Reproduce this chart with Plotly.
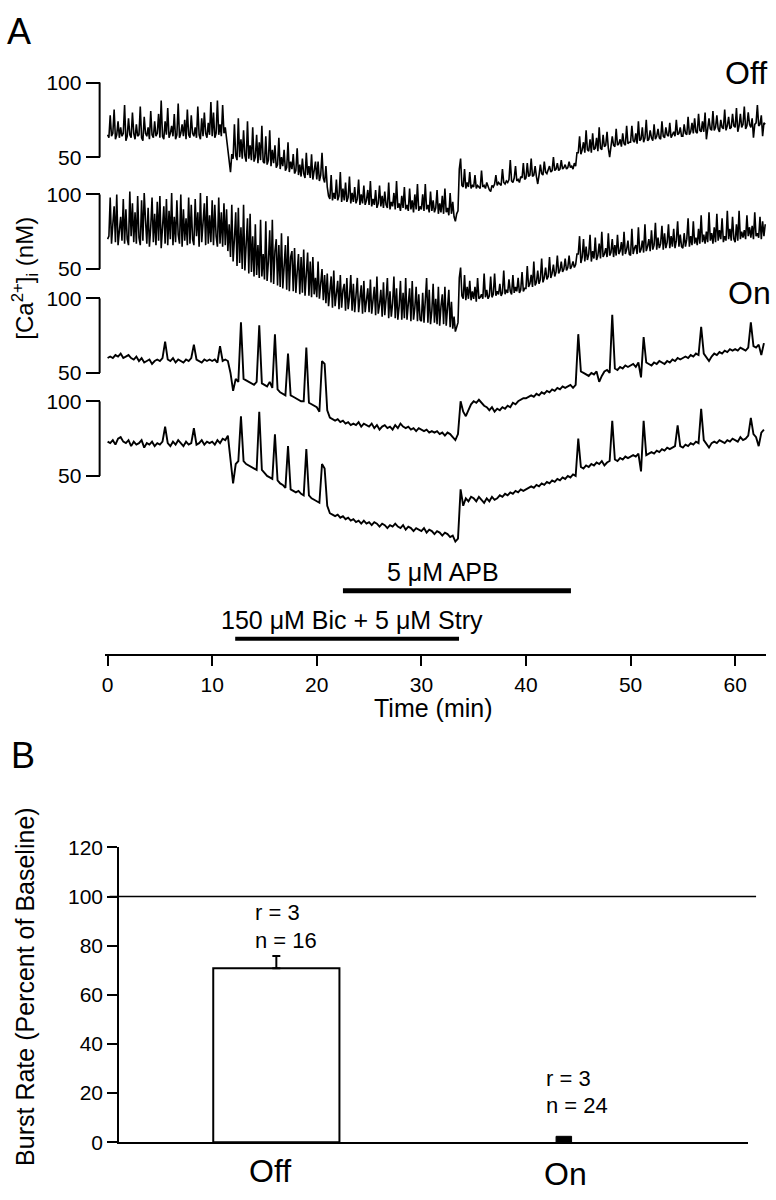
import plotly.graph_objects as go

# ---------------- DATA ----------------
OFF_STEP_MIN = 0.125  # sampling interval of the Off traces (min)
ON_STEP_MIN = 0.25    # sampling interval of the On traces (min)

# Panel A: [Ca2+]i traces (nM), starting at t = 0
off_cell_1 = [
    65, 63, 78, 64, 66, 82, 62, 65, 74, 63, 70, 64, 66, 85, 61, 64, 76, 65, 63, 80,
    66, 62, 72, 64, 65, 84, 63, 61, 77, 66, 64, 70, 62, 81, 65, 63, 74, 64, 66, 79,
    63, 88, 64, 62, 74, 65, 83, 63, 66, 71, 64, 79, 62, 65, 86, 63, 66, 72, 64, 75,
    62, 82, 65, 63, 78, 66, 64, 70, 63, 84, 65, 62, 76, 64, 80, 66, 63, 73, 65, 87,
    64, 80, 63, 66, 88, 65, 72, 64, 85, 66, 70, 62, 58, 47, 40, 52, 49, 72, 51, 48,
    76, 50, 62, 49, 68, 51, 47, 74, 49, 58, 48, 70, 47, 50, 65, 46, 60, 48, 71, 47,
    46, 64, 45, 48, 68, 44, 55, 46, 58, 43, 45, 63, 42, 50, 44, 55, 41, 43, 60, 40,
    47, 42, 52, 39, 41, 56, 38, 45, 37, 49, 39, 36, 53, 38, 44, 36, 52, 35, 40, 47,
    35, 47, 34, 38, 53, 36, 33, 44, 30, 24, 22, 38, 21, 26, 22, 35, 21, 24, 40, 20,
    29, 21, 33, 20, 23, 37, 19, 26, 20, 30, 19, 22, 35, 18, 25, 19, 31, 18, 21, 28,
    18, 34, 17, 22, 18, 28, 16, 19, 31, 17, 24, 16, 27, 18, 16, 33, 15, 20, 17, 26,
    15, 34, 16, 19, 14, 24, 16, 30, 15, 18, 14, 29, 15, 21, 13, 25, 15, 32, 14, 17,
    15, 25, 14, 32, 15, 18, 13, 27, 14, 21, 13, 16, 28, 12, 19, 13, 24, 12, 29, 13,
    16, 11, 26, 12, 20, 10, 7, 12, 14, 42, 49, 31, 30, 42, 29, 33, 30, 40, 29, 31,
    30, 38, 29, 31, 30, 29, 41, 30, 31, 29, 33, 30, 28, 27, 31, 30, 32, 38, 31, 33,
    32, 31, 42, 33, 32, 34, 33, 35, 48, 34, 33, 36, 44, 34, 35, 33, 37, 36, 46, 35,
    36, 46, 37, 38, 49, 37, 38, 44, 37, 32, 38, 45, 39, 38, 47, 40, 39, 41, 44, 40,
    41, 50, 41, 42, 46, 41, 42, 48, 42, 43, 45, 42, 43, 47, 43, 44, 42, 46, 44, 53,
    53, 64, 52, 55, 60, 53, 68, 55, 54, 62, 53, 66, 55, 56, 63, 54, 70, 56, 55, 65,
    57, 58, 67, 56, 50, 57, 64, 58, 57, 69, 58, 59, 62, 57, 66, 59, 58, 71, 59, 60,
    60, 71, 61, 60, 66, 59, 74, 61, 62, 70, 60, 63, 75, 61, 62, 68, 63, 61, 72, 62,
    64, 69, 63, 62, 74, 64, 63, 70, 65, 64, 73, 63, 65, 67, 64, 75, 65, 66, 70, 64,
    64, 72, 66, 65, 77, 65, 67, 73, 66, 76, 67, 66, 79, 68, 67, 74, 67, 80, 62, 68,
    76, 69, 68, 81, 68, 70, 78, 69, 67, 75, 70, 69, 82, 68, 71, 77, 69, 70, 79, 71,
    70, 83, 67, 71, 79, 70, 72, 84, 69, 71, 80, 72, 70, 76, 63, 72, 73, 85, 71, 72,
    78, 64, 73, 72,
]
off_cell_2 = [
    70, 72, 98, 67, 80, 92, 68, 100, 66, 75, 85, 69, 97, 67, 90, 70, 66, 102, 72, 94,
    68, 88, 67, 99, 71, 66, 96, 69, 101, 83, 67, 91, 65, 78, 98, 68, 87, 66, 95, 69,
    99, 64, 80, 92, 67, 97, 66, 89, 70, 101, 66, 85, 68, 96, 73, 67, 100, 65, 90, 69,
    84, 66, 98, 67, 93, 70, 66, 97, 72, 88, 65, 101, 68, 79, 94, 66, 99, 67, 86, 68,
    96, 66, 93, 72, 65, 98, 67, 88, 65, 94, 66, 90, 62, 80, 58, 93, 55, 70, 88, 52,
    91, 54, 78, 50, 93, 49, 68, 84, 47, 87, 48, 72, 45, 80, 46, 66, 44, 83, 45, 60,
    43, 82, 42, 55, 76, 41, 83, 40, 62, 70, 39, 66, 38, 74, 37, 50, 66, 36, 72, 35,
    58, 62, 35, 64, 34, 48, 60, 33, 58, 34, 63, 32, 45, 61, 32, 55, 31, 58, 33, 44,
    31, 55, 30, 42, 50, 29, 46, 27, 47, 25, 38, 45, 24, 49, 25, 33, 42, 23, 46, 24,
    36, 40, 22, 44, 23, 31, 46, 22, 40, 21, 35, 44, 21, 30, 39, 20, 42, 21, 28, 37,
    21, 43, 20, 29, 38, 19, 45, 20, 26, 36, 18, 41, 19, 30, 44, 17, 35, 18, 27, 45,
    17, 37, 16, 25, 42, 16, 34, 17, 44, 16, 28, 37, 15, 42, 16, 24, 38, 15, 33, 16,
    15, 34, 14, 26, 44, 14, 36, 13, 22, 40, 14, 30, 13, 38, 12, 25, 33, 13, 38, 12,
    22, 36, 11, 28, 10, 18, 8, 12, 14, 44, 51, 32, 30, 46, 29, 38, 30, 42, 29, 35,
    30, 38, 28, 44, 30, 31, 33, 30, 47, 31, 36, 30, 32, 45, 31, 33, 47, 32, 35, 33,
    40, 32, 34, 49, 33, 36, 34, 43, 35, 33, 46, 34, 38, 35, 44, 34, 36, 48, 35, 37,
    37, 52, 38, 40, 46, 38, 55, 39, 41, 49, 40, 43, 57, 41, 44, 51, 43, 45, 58, 44,
    47, 53, 45, 48, 59, 47, 49, 55, 48, 50, 57, 49, 51, 59, 50, 52, 55, 51, 53, 60,
    60, 72, 54, 58, 70, 55, 65, 56, 60, 73, 55, 62, 57, 71, 56, 59, 67, 57, 75, 58,
    60, 64, 58, 74, 59, 61, 70, 58, 66, 59, 73, 60, 62, 68, 59, 75, 60, 63, 69, 60,
    59, 77, 60, 64, 66, 60, 78, 61, 63, 69, 61, 80, 62, 65, 70, 62, 76, 63, 66, 81,
    63, 71, 64, 67, 79, 63, 74, 64, 68, 80, 64, 72, 65, 77, 64, 69, 82, 65, 73, 65,
    64, 74, 65, 70, 84, 65, 72, 66, 82, 67, 71, 66, 77, 67, 86, 68, 73, 67, 75, 68,
    88, 69, 74, 67, 78, 68, 87, 69, 76, 70, 84, 68, 72, 69, 89, 70, 77, 69, 85, 70,
    68, 80, 69, 89, 70, 75, 71, 76, 70, 86, 72, 78, 71, 79, 70, 88, 72, 74, 71, 85,
    70, 82, 72, 80,
]
on_cell_1 = [
    60, 61, 60, 62, 61, 63, 60, 61, 62, 60, 59, 61, 58, 60, 57, 58, 59, 56, 58, 59,
    58, 60, 71, 59, 58, 60, 57, 59, 58, 57, 59, 58, 60, 69, 59, 58, 57, 59, 58, 59,
    58, 59, 57, 68, 58, 59, 58, 50, 38, 46, 44, 84, 46, 45, 44, 43, 42, 44, 82, 43,
    42, 41, 44, 40, 76, 39, 37, 36, 35, 63, 35, 34, 33, 32, 31, 31, 67, 30, 29, 28,
    27, 24, 58, 56, 25, 20, 19, 18, 19, 17, 18, 16, 17, 15, 16, 15, 17, 14, 16, 15,
    14, 16, 13, 15, 12, 14, 15, 13, 14, 12, 15, 13, 16, 14, 13, 14, 12, 13, 11, 13,
    12, 11, 12, 10, 11, 10, 11, 9, 10, 8, 10, 9, 7, 5, 9, 31, 24, 21, 25, 29,
    31, 30, 32, 30, 28, 27, 25, 27, 24, 26, 25, 27, 26, 28, 27, 30, 29, 31, 32, 33,
    33, 34, 35, 34, 36, 35, 37, 36, 38, 37, 39, 38, 40, 39, 41, 40, 41, 42, 40, 42,
    76, 51, 50, 49, 48, 50, 49, 51, 44, 48, 51, 52, 50, 89, 53, 52, 54, 53, 55, 54,
    55, 56, 54, 57, 47, 74, 57, 56, 55, 57, 56, 58, 57, 56, 58, 57, 59, 58, 60, 59,
    60, 61, 60, 62, 61, 63, 62, 81, 63, 60, 58, 61, 63, 62, 64, 63, 65, 64, 66, 65,
    66, 65, 67, 66, 65, 67, 84, 68, 67, 69, 62, 70,
]
on_cell_2 = [
    73, 72, 74, 71, 75, 76, 73, 72, 74, 70, 73, 71, 72, 74, 69, 72, 71, 73, 70, 72,
    71, 73, 83, 72, 70, 73, 71, 74, 72, 70, 73, 71, 72, 82, 71, 72, 74, 71, 73, 72,
    73, 71, 74, 72, 75, 74, 77, 60, 45, 58, 60, 90, 60, 58, 57, 56, 55, 54, 93, 54,
    52, 50, 49, 48, 78, 47, 45, 44, 42, 70, 41, 40, 39, 40, 38, 37, 68, 37, 35, 34,
    33, 32, 58, 55, 30, 25, 24, 23, 24, 22, 23, 21, 22, 20, 21, 19, 20, 18, 20, 18,
    19, 17, 19, 18, 16, 18, 17, 15, 17, 16, 18, 16, 15, 17, 14, 16, 15, 13, 15, 14,
    13, 15, 12, 14, 13, 11, 13, 12, 10, 12, 11, 9, 10, 6, 8, 41, 30, 35, 33, 36,
    35, 33, 36, 34, 32, 35, 33, 36, 34, 35, 37, 36, 38, 37, 39, 38, 40, 39, 41, 40,
    41, 42, 43, 42, 44, 43, 45, 44, 46, 45, 47, 46, 48, 47, 49, 48, 50, 49, 51, 50,
    75, 56, 55, 57, 56, 58, 57, 59, 58, 60, 57, 59, 60, 87, 61, 60, 62, 61, 63, 62,
    63, 64, 63, 65, 53, 87, 64, 65, 66, 65, 67, 66, 68, 67, 69, 68, 69, 70, 84, 70,
    69, 71, 70, 72, 71, 73, 72, 95, 74, 71, 69, 72, 73, 72, 74, 73, 72, 74, 73, 75,
    74, 73, 76, 74, 75, 77, 89, 78, 76, 70, 79, 81,
]
trace_series = [off_cell_1, off_cell_2, on_cell_1, on_cell_2]
trace_steps = [OFF_STEP_MIN, OFF_STEP_MIN, ON_STEP_MIN, ON_STEP_MIN]
time_ticks = [0, 10, 20, 30, 40, 50, 60]
scale_ticks = [50, 100]

# drug applications (min)
drug_labels = ["5 \u03bcM APB", "150 \u03bcM Bic + 5 \u03bcM Stry"]
drug_start = [22.5, 12.2]
drug_end = [44.3, 33.6]

# Panel B: burst rate (% of baseline)
cell_types = ["Off", "On"]
burst_rate = [70.8, 2.4]
burst_sem = [5.0, 0.0]
n_text = [["r = 3", "n = 16"], ["r = 3", "n = 24"]]
burst_ticks = [0, 20, 40, 60, 80, 100, 120]
baseline_pct = 100

# ---------------- LAYOUT HELPERS ----------------
W, H = 776, 1200
FONT = "Liberation Sans, Arial, Helvetica, sans-serif"


def px(x):
    return x / W


def py(y):
    return 1 - y / H


# panel A geometry
A_TOP, A_BOT = 45, 655
T0_PX, PX_PER_MIN = 105, 10.5
X_LEFT, X_RIGHT = 102, 766
TOP100 = [72, 186, 292, 397]   # pixel row of the 100 nM scale tick per trace
PX_PER_NM = 76 / 50
SCALE_X = 97

fig = go.Figure()

for i, (vals, step) in enumerate(zip(trace_series, trace_steps)):
    t = [k * step for k in range(len(vals))]
    fig.add_trace(go.Scatter(
        x=t, y=vals, mode="lines",
        line=dict(color="black", width=1.6 if i < 2 else 1.9),
        xaxis="x", yaxis="y" if i == 0 else f"y{i + 1}",
        showlegend=False, hoverinfo="skip"))

# Panel B bars
fig.add_trace(go.Bar(
    x=[0], y=[burst_rate[0]], width=[0.439],
    marker=dict(color="white", line=dict(color="black", width=2)),
    error_y=dict(type="data", array=[burst_sem[0]], arrayminus=[0],
                 symmetric=False, color="black", thickness=2, width=4),
    xaxis="x2", yaxis="y5", showlegend=False, hoverinfo="skip"))
fig.add_trace(go.Bar(
    x=[1], y=[burst_rate[1]], width=[0.054],
    marker=dict(color="black", line=dict(color="black", width=1)),
    xaxis="x2", yaxis="y5", showlegend=False, hoverinfo="skip"))

layout = dict(
    width=W, height=H,
    margin=dict(l=0, r=0, t=0, b=0),
    paper_bgcolor="white", plot_bgcolor="rgba(0,0,0,0)",
    font=dict(family=FONT, color="black", size=21),
    barmode="overlay",
    showlegend=False,
)

t_lo = (X_LEFT - T0_PX) / PX_PER_MIN
t_hi = (X_RIGHT - T0_PX) / PX_PER_MIN
layout["xaxis"] = dict(
    domain=[px(X_LEFT), px(X_RIGHT)], range=[t_lo, t_hi],
    anchor="y", showline=True, linecolor="black", linewidth=2,
    ticks="outside", ticklen=10, tickwidth=2, tickcolor="black",
    tickvals=time_ticks, showgrid=False, zeroline=False,
    tickfont=dict(size=21, family=FONT),
)

for i, top in enumerate(TOP100):
    lo = 100 - (A_BOT - top) / PX_PER_NM
    hi = 100 + (top - A_TOP) / PX_PER_NM
    ax = dict(
        domain=[py(A_BOT), py(A_TOP)], range=[lo, hi],
        showline=False, showgrid=False, zeroline=False,
        ticks="outside", ticklen=14, tickwidth=2, tickcolor="black",
        tickvals=scale_ticks, tickfont=dict(size=21, family=FONT),
        anchor="free", position=px(SCALE_X),
    )
    if i > 0:
        ax["overlaying"] = "y"
    layout["yaxis" if i == 0 else f"yaxis{i + 1}"] = ax

# Panel B axes
B_Y0, B_Y120 = 1152.3, 851.7
OFF_PX, CAT_PX = 274.4, 288.6
B_XL, B_XR = 116.7, 748
layout["xaxis2"] = dict(
    domain=[px(B_XL), px(B_XR)],
    range=[(B_XL - OFF_PX) / CAT_PX, (B_XR - OFF_PX) / CAT_PX],
    anchor="y5", showline=True, linecolor="black", linewidth=2,
    showticklabels=False, ticks="", showgrid=False, zeroline=False,
)
layout["yaxis5"] = dict(
    domain=[py(B_Y0), py(B_Y120)], range=[0, 120],
    anchor="x2", showline=True, linecolor="black", linewidth=2,
    ticks="outside", ticklen=10, tickwidth=2, tickcolor="black",
    tickvals=burst_ticks, showgrid=False, zeroline=False,
    tickfont=dict(size=21, family=FONT),
)
fig.update_layout(**layout)

shapes = []
# scale bars
for i in range(4):
    yref = "y" if i == 0 else f"y{i + 1}"
    shapes.append(dict(type="line", xref="paper", yref=yref,
                       x0=px(SCALE_X), x1=px(SCALE_X), y0=50, y1=100,
                       line=dict(color="black", width=2)))
# drug bars
for y_px, s, e, w in zip([590, 639], drug_start, drug_end, [5, 4]):
    shapes.append(dict(type="line", xref="x", yref="paper",
                       x0=s, x1=e, y0=py(y_px), y1=py(y_px),
                       line=dict(color="black", width=w)))
# baseline line in panel B
shapes.append(dict(type="line", xref="paper", yref="y5",
                   x0=px(107), x1=px(756), y0=baseline_pct, y1=baseline_pct,
                   line=dict(color="black", width=1.5)))
fig.update_layout(shapes=shapes)

ann = []


def add_text(text, x, y, size, xanchor="center", textangle=0):
    ann.append(dict(text=text, x=px(x), y=py(y), xref="paper", yref="paper",
                    showarrow=False, xanchor=xanchor, yanchor="middle",
                    textangle=textangle, font=dict(size=size, family=FONT, color="black")))


add_text("A", 16, 20, 36)
add_text("B", 20, 758, 36)
add_text("Off", 746, 62, 32)
add_text("On", 749, 287, 32)
add_text("[Ca<sup>2+</sup>]<sub>i</sub> (nM)", 22, 271, 24, textangle=-90)
add_text(drug_labels[0], 442, 571, 25)
add_text(drug_labels[1], 350, 620, 25)
add_text("Time (min)", 432, 710, 25)
add_text("Burst Rate (Percent of Baseline)", 22, 993, 25, textangle=-90)
add_text(n_text[0][0], 251, 918, 22, xanchor="left")
add_text(n_text[0][1], 251, 947, 22, xanchor="left")
add_text(n_text[1][0], 543, 1087, 22, xanchor="left")
add_text(n_text[1][1], 543, 1115, 22, xanchor="left")
add_text(cell_types[0], 268, 1182, 32)
add_text(cell_types[1], 565, 1185, 32)
fig.update_layout(annotations=ann)

fig.write_html("out.html", config={"displayModeBar": False},
               post_script="document.body.style.margin='0';")
